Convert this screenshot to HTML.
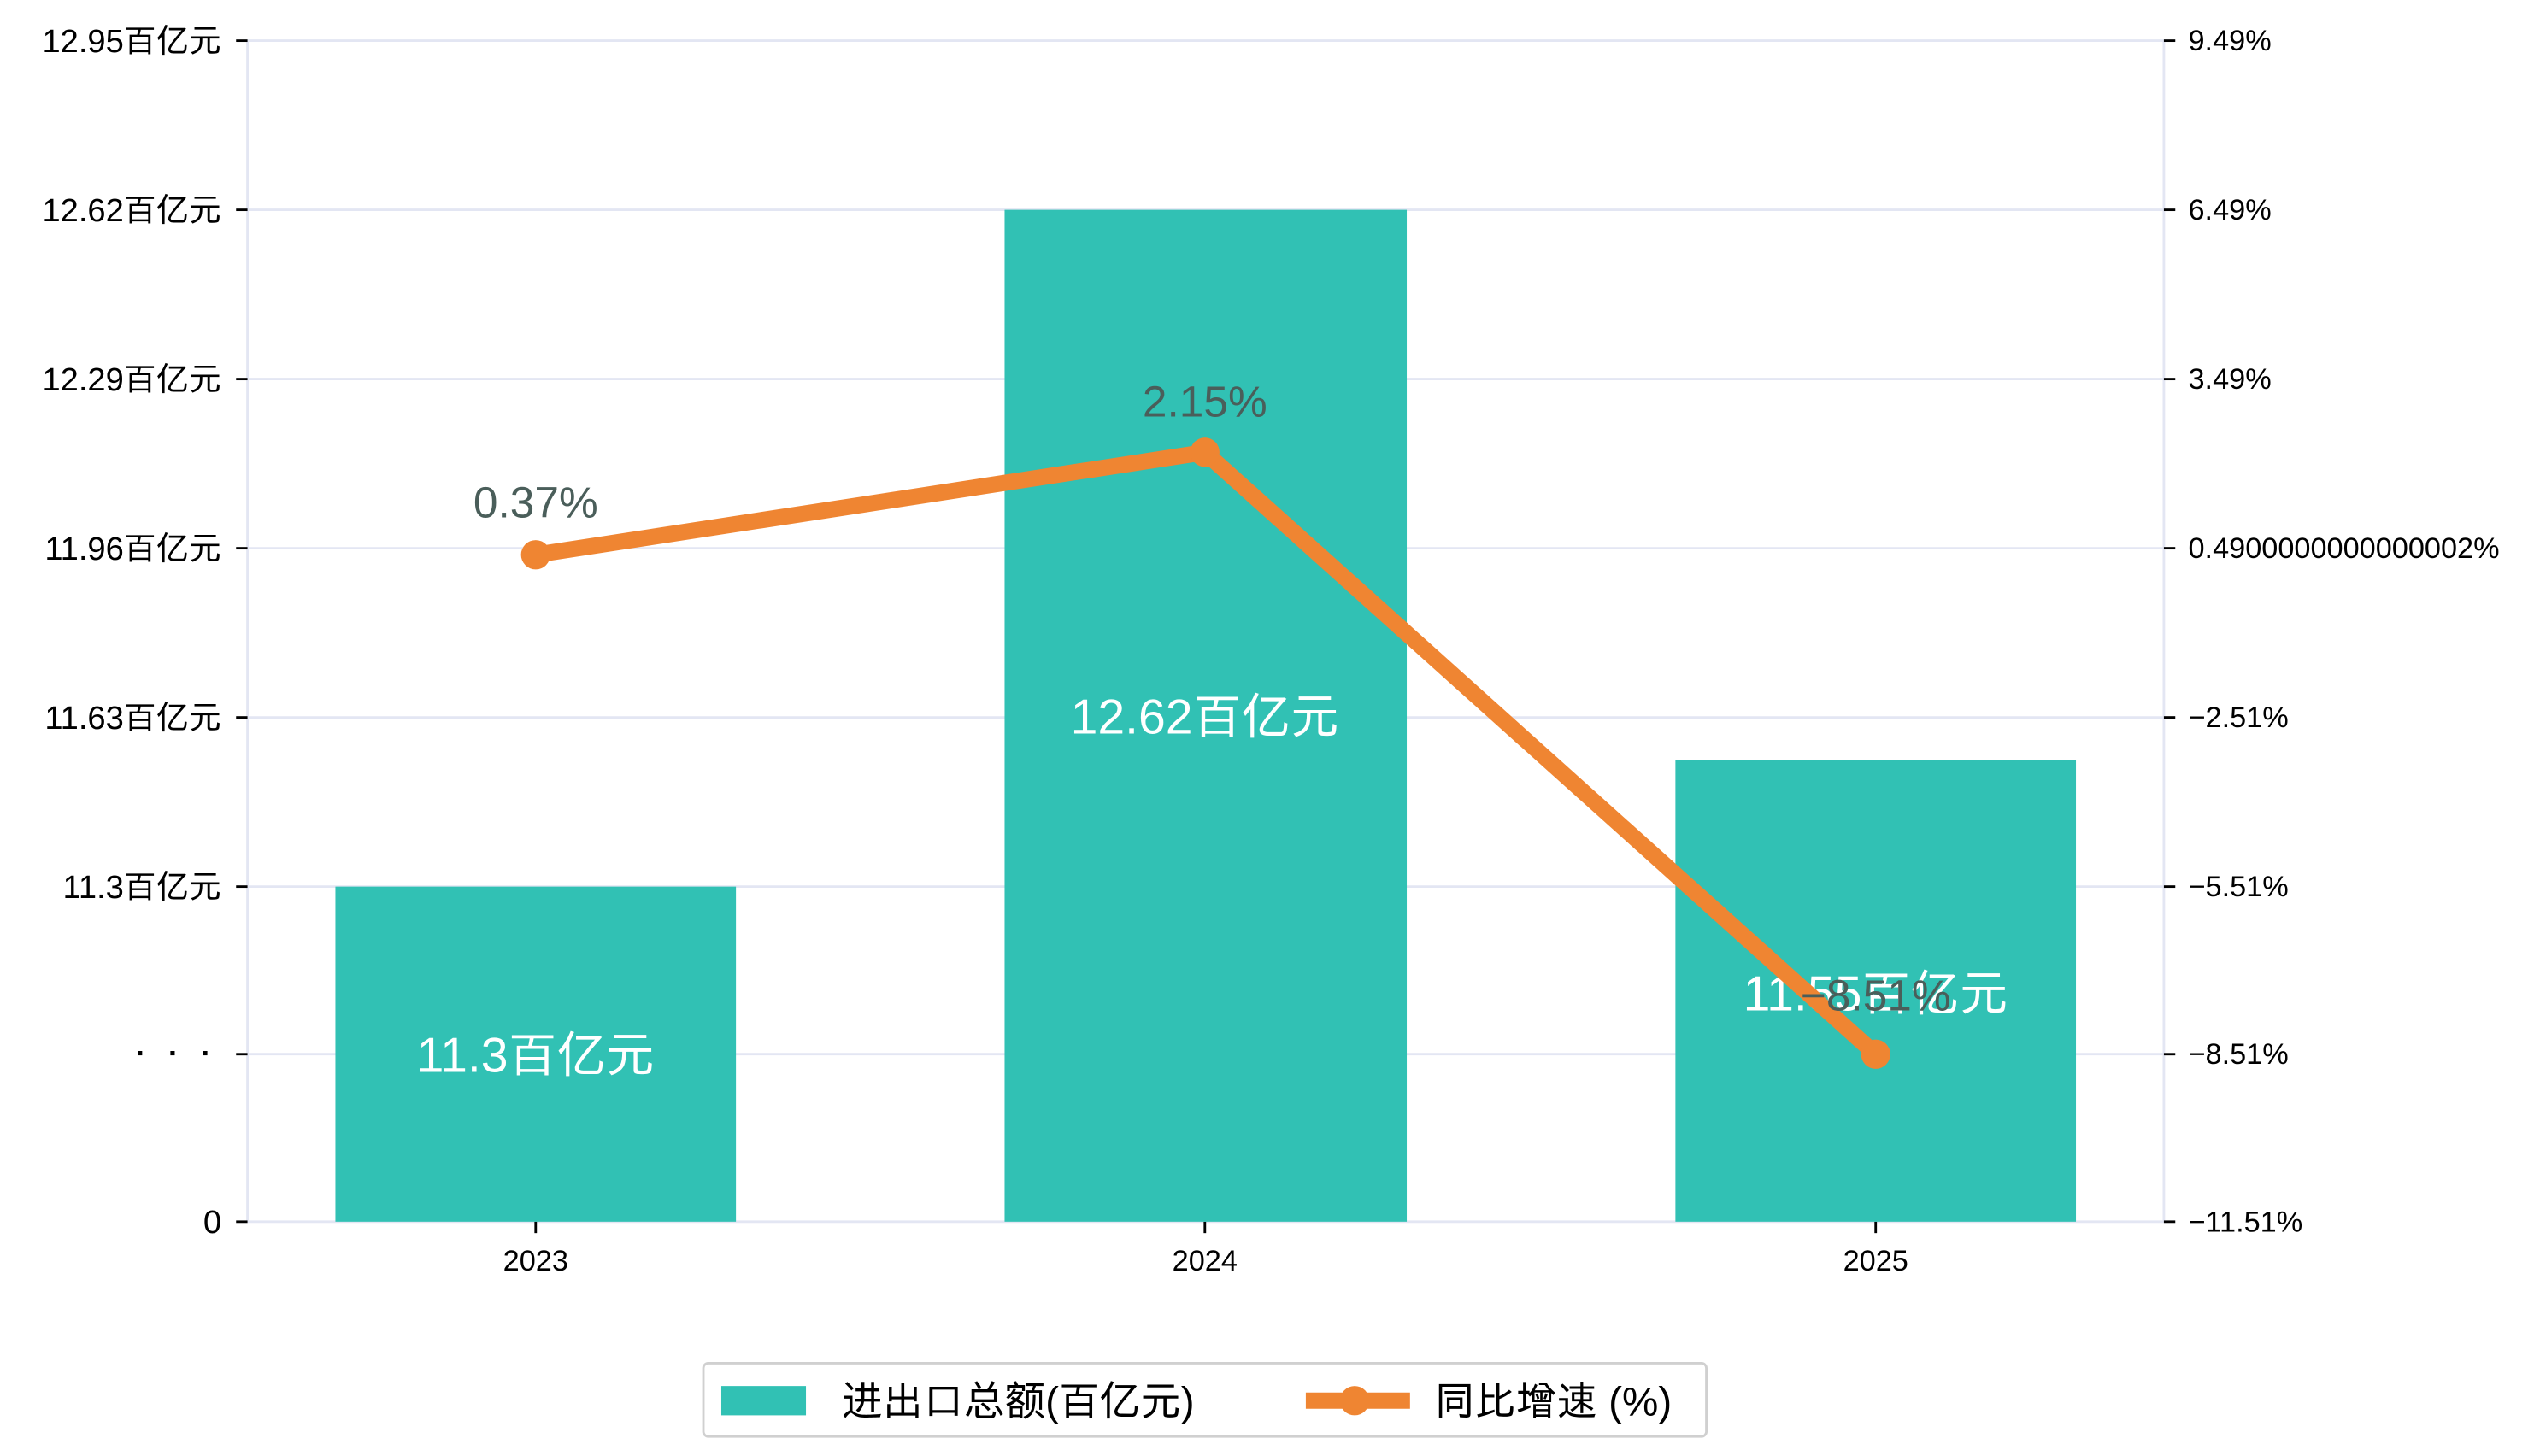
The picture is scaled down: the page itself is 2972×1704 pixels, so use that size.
<!DOCTYPE html>
<html><head><meta charset="utf-8"><style>
html,body{margin:0;padding:0;background:#fff;}
svg{display:block;}
text{font-family:"Liberation Sans","IPAGothic","Noto Sans CJK SC",sans-serif;}
</style></head><body>
<svg width="2972" height="1704" viewBox="0 0 1560 895" preserveAspectRatio="none" xmlns="http://www.w3.org/2000/svg">
<rect width="1560" height="895" fill="#fff"/>
<g stroke="#e3e6f3" stroke-width="1.5">
<line x1="152" y1="25" x2="1329" y2="25"/>
<line x1="152" y1="129" x2="1329" y2="129"/>
<line x1="152" y1="233" x2="1329" y2="233"/>
<line x1="152" y1="337" x2="1329" y2="337"/>
<line x1="152" y1="441" x2="1329" y2="441"/>
<line x1="152" y1="545" x2="1329" y2="545"/>
<line x1="152" y1="648" x2="1329" y2="648"/>
<line x1="152" y1="751" x2="1329" y2="751"/>
<line x1="152" y1="25" x2="152" y2="751"/>
<line x1="1329" y1="25" x2="1329" y2="751"/>
</g>
<g stroke="#000" stroke-width="1.5">
<line x1="145" y1="25" x2="152" y2="25"/><line x1="145" y1="129" x2="152" y2="129"/>
<line x1="145" y1="233" x2="152" y2="233"/><line x1="145" y1="337" x2="152" y2="337"/>
<line x1="145" y1="441" x2="152" y2="441"/><line x1="145" y1="545" x2="152" y2="545"/>
<line x1="145" y1="648" x2="152" y2="648"/><line x1="145" y1="751" x2="152" y2="751"/>
<line x1="1329" y1="25" x2="1336" y2="25"/><line x1="1329" y1="129" x2="1336" y2="129"/>
<line x1="1329" y1="233" x2="1336" y2="233"/><line x1="1329" y1="337" x2="1336" y2="337"/>
<line x1="1329" y1="441" x2="1336" y2="441"/><line x1="1329" y1="545" x2="1336" y2="545"/>
<line x1="1329" y1="648" x2="1336" y2="648"/><line x1="1329" y1="751" x2="1336" y2="751"/>
<line x1="329" y1="751" x2="329" y2="758"/><line x1="740" y1="751" x2="740" y2="758"/><line x1="1152" y1="751" x2="1152" y2="758"/>
</g>
<g font-size="20" fill="#000" text-anchor="end">
<text x="136" y="32">12.95百亿元</text>
<text x="136" y="136">12.62百亿元</text>
<text x="136" y="240">12.29百亿元</text>
<text x="136" y="344">11.96百亿元</text>
<text x="136" y="448">11.63百亿元</text>
<text x="136" y="552">11.3百亿元</text>
<text x="136" y="655">・・・</text>
<text x="136" y="758">0</text>
</g>
<g font-size="18" fill="#000">
<text x="1344" y="31">9.49%</text>
<text x="1344" y="135">6.49%</text>
<text x="1344" y="239">3.49%</text>
<text x="1344" y="343">0.4900000000000002%</text>
<text x="1344" y="447">−2.51%</text>
<text x="1344" y="551">−5.51%</text>
<text x="1344" y="654">−8.51%</text>
<text x="1344" y="757">−11.51%</text>
</g>
<g font-size="18" fill="#000" text-anchor="middle">
<text x="329" y="781">2023</text><text x="740" y="781">2024</text><text x="1152" y="781">2025</text>
</g>
<g fill="#31c1b4">
<rect x="206" y="545" width="246" height="206"/>
<rect x="617" y="129" width="247" height="622"/>
<rect x="1029" y="467" width="246" height="284"/>
</g>
<g font-size="30" fill="#fff" text-anchor="middle">
<text x="329" y="659">11.3百亿元</text>
<text x="740" y="451">12.62百亿元</text>
<text x="1152" y="621">11.55百亿元</text>
</g>
<polyline points="329,341 740,278 1152,648" fill="none" stroke="#ef8532" stroke-width="10" stroke-linejoin="round"/>
<g fill="#ef8532"><circle cx="329" cy="341" r="9"/><circle cx="740" cy="278" r="9"/><circle cx="1152" cy="648" r="9"/></g>
<g font-size="27" fill="#4a5e5a" text-anchor="middle">
<text x="329" y="318">0.37%</text>
<text x="740" y="256">2.15%</text>
<text x="1152" y="621">−8.51%</text>
</g>
<rect x="432" y="838" width="616" height="45" rx="3" fill="#fff" stroke="#d0d0d0" stroke-width="1.5"/>
<rect x="443" y="852" width="52" height="18" fill="#31c1b4"/>
<text x="517" y="870" font-size="25" fill="#000">进出口总额(百亿元)</text>
<line x1="802" y1="861" x2="866" y2="861" stroke="#ef8532" stroke-width="10"/>
<circle cx="832" cy="861" r="9" fill="#ef8532"/>
<text x="881" y="870" font-size="25" fill="#000">同比增速 (%)</text>
</svg>
</body></html>
